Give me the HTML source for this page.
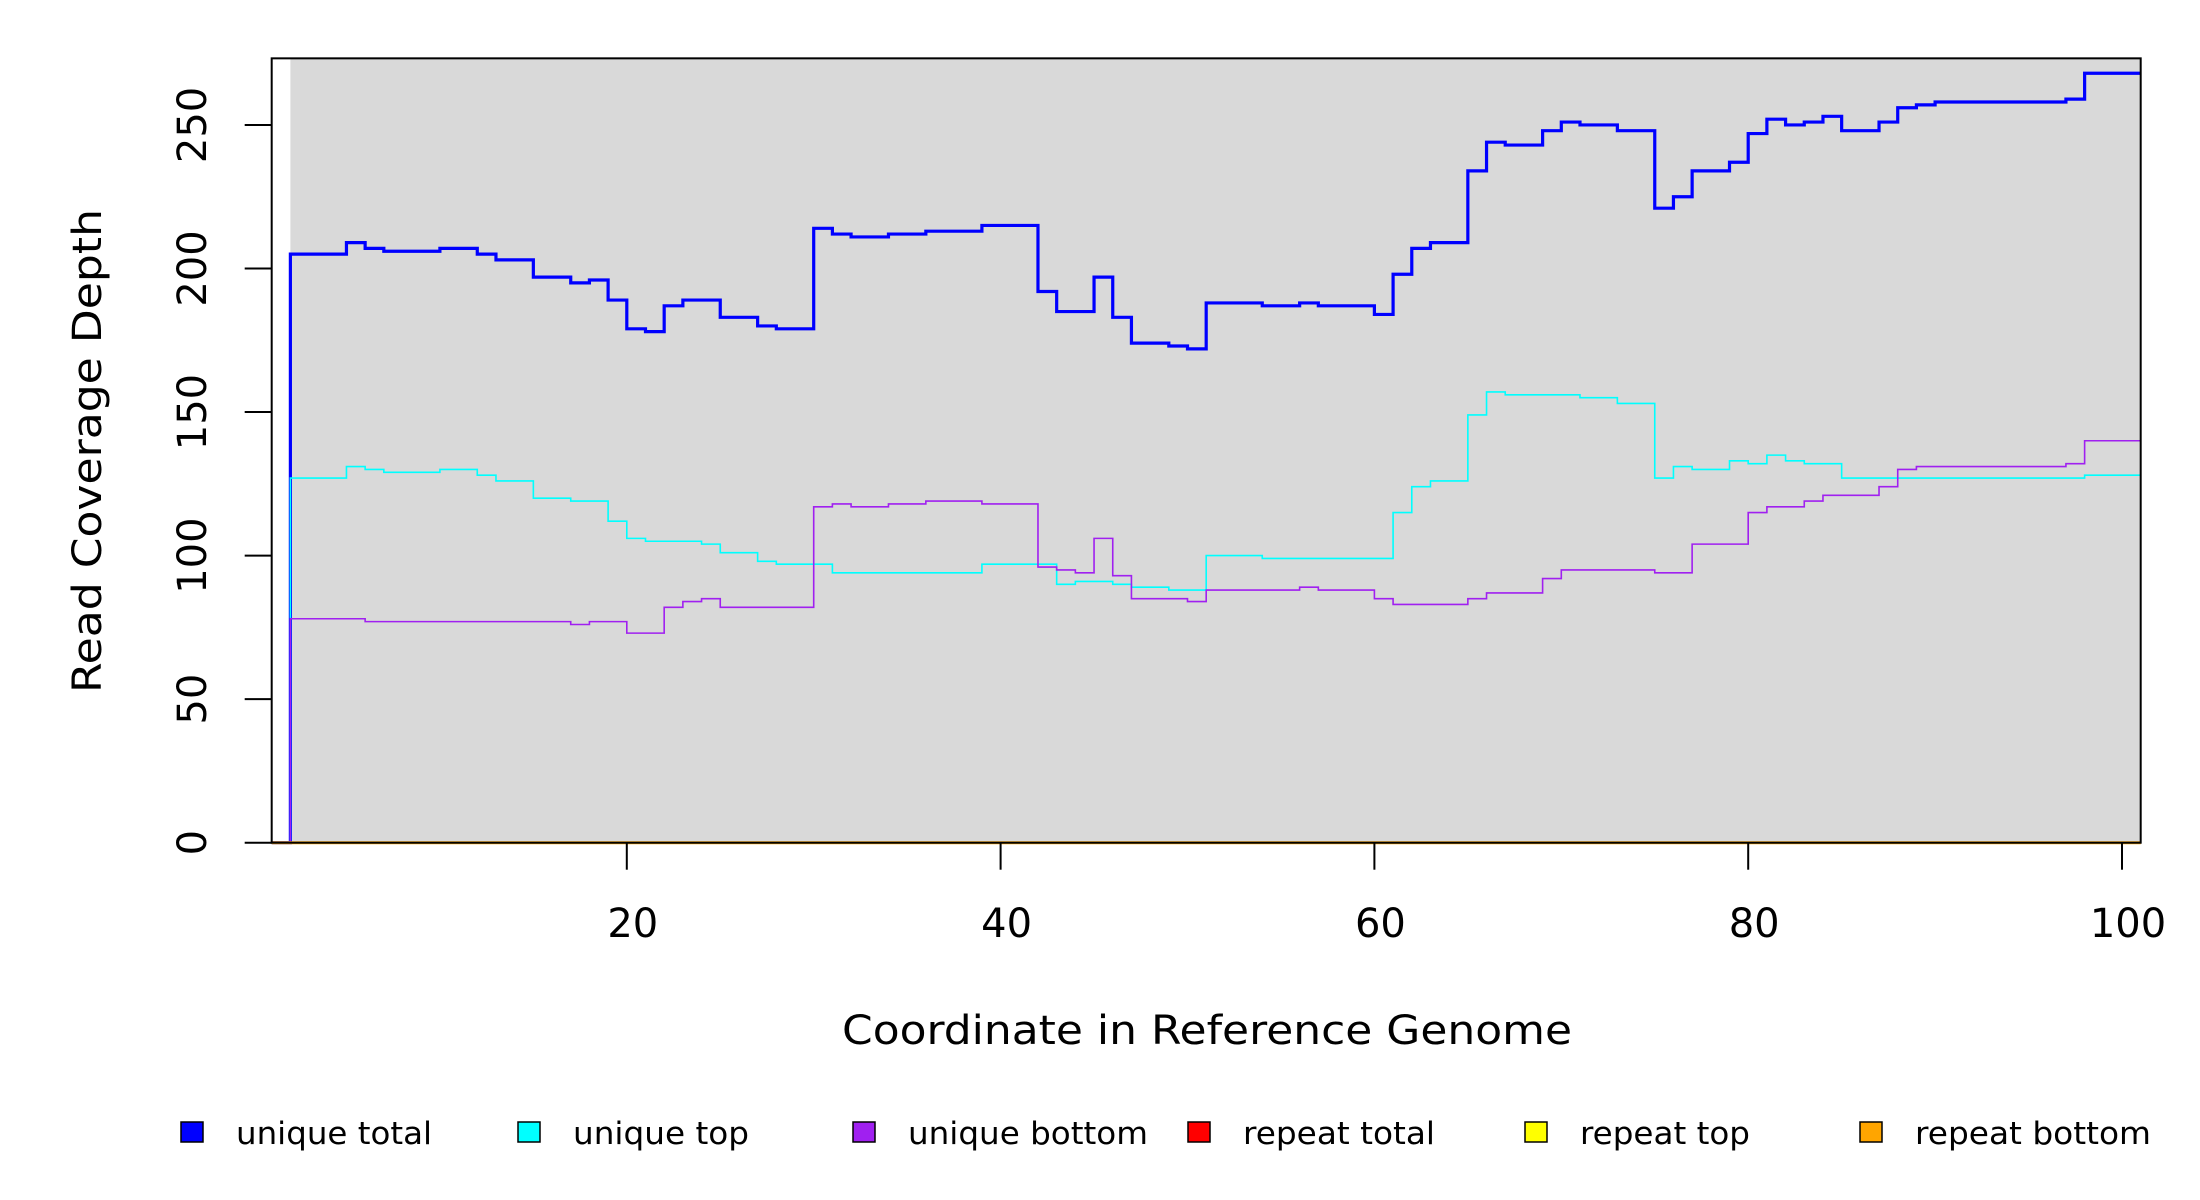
<!DOCTYPE html>
<html><head><meta charset="utf-8"><style>
html,body{margin:0;padding:0;background:#fff;}
svg{display:block;font-family:"DejaVu Sans","Liberation Sans",sans-serif;}
</style></head><body>
<svg id="chart" width="2200" height="1200" viewBox="0 0 2200 1200" xmlns="http://www.w3.org/2000/svg">
<rect x="0" y="0" width="2200" height="1200" fill="#fff"/>
<g id="plot"></g>
<g id="axes"></g>
<text x="1207" y="1044" font-size="40" text-anchor="middle" textLength="730" lengthAdjust="spacingAndGlyphs">Coordinate in Reference Genome</text>
<text transform="translate(101,451) rotate(-90)" font-size="40" text-anchor="middle" textLength="484" lengthAdjust="spacingAndGlyphs">Read Coverage Depth</text>
<g id="legend"></g>
</svg>
<script>
const xTicks = [20, 40, 60, 80, 100];
const yTicks = [0, 50, 100, 150, 200, 250];
const startX = 2;
const uniqueTotal = [205,205,205,209,207,206,206,206,207,207,205,203,203,197,197,195,196,189,179,178,187,189,189,183,183,180,179,179,214,212,211,211,212,212,213,213,213,215,215,215,192,185,185,197,183,174,174,173,172,188,188,188,187,187,188,187,187,187,184,198,207,209,209,234,244,243,243,248,251,250,250,248,248,221,225,234,234,237,247,252,250,251,253,248,248,251,256,257,258,258,258,258,258,258,258,259,268,268,268];
const uniqueTop = [127,127,127,131,130,129,129,129,130,130,128,126,126,120,120,119,119,112,106,105,105,105,104,101,101,98,97,97,97,94,94,94,94,94,94,94,94,97,97,97,97,90,91,91,90,89,89,88,88,100,100,100,99,99,99,99,99,99,99,115,124,126,126,149,157,156,156,156,156,155,155,153,153,127,131,130,130,133,132,135,133,132,132,127,127,127,127,127,127,127,127,127,127,127,127,127,128,128,128];
const uniqueBottom = [78,78,78,78,77,77,77,77,77,77,77,77,77,77,77,76,77,77,73,73,82,84,85,82,82,82,82,82,117,118,117,117,118,118,119,119,119,118,118,118,96,95,94,106,93,85,85,85,84,88,88,88,88,88,89,88,88,88,85,83,83,83,83,85,87,87,87,92,95,95,95,95,95,94,94,104,104,104,115,117,117,119,121,121,121,124,130,131,131,131,131,131,131,131,131,132,140,140,140];
const repeatTotal = new Array(99).fill(0);
const repeatTop = new Array(99).fill(0);
const repeatBottom = new Array(99).fill(0);
const seriesNames = ["unique total","unique top","unique bottom","repeat total","repeat top","repeat bottom"];
const seriesColors = ["#0000ff","#00ffff","#a020f0","#ff0000","#ffff00","#ffa500"];

const NS = "http://www.w3.org/2000/svg";
const X0 = 253, XU = 18.69;
const Y0 = 842.7, YU = 2.871;
const xs = v => X0 + v * XU;
const ys = v => Y0 - v * YU;
function mk(tag, attrs, parent) {
  const e = document.createElementNS(NS, tag);
  for (const k in attrs) e.setAttribute(k, attrs[k]);
  parent.appendChild(e);
  return e;
}
const plot = document.getElementById('plot');
const axes = document.getElementById('axes');
const L = xs(1), R = xs(101), T = ys(273.2), B = ys(0);
const bg = mk('rect', {x: xs(2), y: T, width: R - xs(2), height: B - T, fill: '#d9d9d9'}, plot);



function stepPath(vals) {
  let d = `M${xs(1)},${ys(0)} L${xs(startX)},${ys(0)}`;
  vals.forEach((v, i) => {
    const x1 = xs(startX + i), x2 = xs(startX + i + 1);
    d += ` L${x1},${ys(v)} L${x2},${ys(v)}`;
  });
  return d;
}
const allSeries = [uniqueTotal, uniqueTop, uniqueBottom, repeatTotal, repeatTop, repeatBottom];
const widths = [3.2, 1.6, 1.6, 2, 2, 3];
[0, 1, 2, 3, 4, 5].forEach(i => {
  const p = mk('path', {d: stepPath(allSeries[i]), fill: 'none', stroke: seriesColors[i], 'stroke-width': widths[i], 'stroke-linejoin': 'miter'}, plot);
  
  
});

const box = mk('rect', {x: L, y: T, width: R - L, height: B - T, fill: 'none', stroke: '#000', 'stroke-width': 2}, axes);



yTicks.forEach(v => {
  const t = mk('line', {x1: L - 27, x2: L, y1: ys(v), y2: ys(v), stroke: '#000', 'stroke-width': 2}, axes);
  
  
  const lb = mk('text', {transform: `translate(206,${ys(v)}) rotate(-90)`, 'font-size': 40, 'text-anchor': 'middle'}, axes);
  lb.textContent = String(v);
  
  
});
xTicks.forEach(v => {
  const t = mk('line', {x1: xs(v), x2: xs(v), y1: B, y2: B + 27, stroke: '#000', 'stroke-width': 2}, axes);
  
  
  const lb = mk('text', {x: xs(v) + 6, y: 937, 'font-size': 40, 'text-anchor': 'middle'}, axes);
  lb.textContent = String(v);
  
  
});

const legend = document.getElementById('legend');
const legX = [181, 518, 853, 1188, 1525, 1860];
const legW = [196, 176, 240, 192, 170, 236];
seriesNames.forEach((n, i) => {
  const g = mk('g', {}, legend);
  
  
  mk('rect', {x: legX[i], y: 1122, width: 22, height: 20, fill: seriesColors[i], stroke: '#000', 'stroke-width': 1.5}, g);
  const t = mk('text', {x: legX[i] + 55, y: 1144, 'font-size': 31, textLength: legW[i], lengthAdjust: 'spacingAndGlyphs'}, g);
  t.textContent = n;
});
</script>
</body></html>
